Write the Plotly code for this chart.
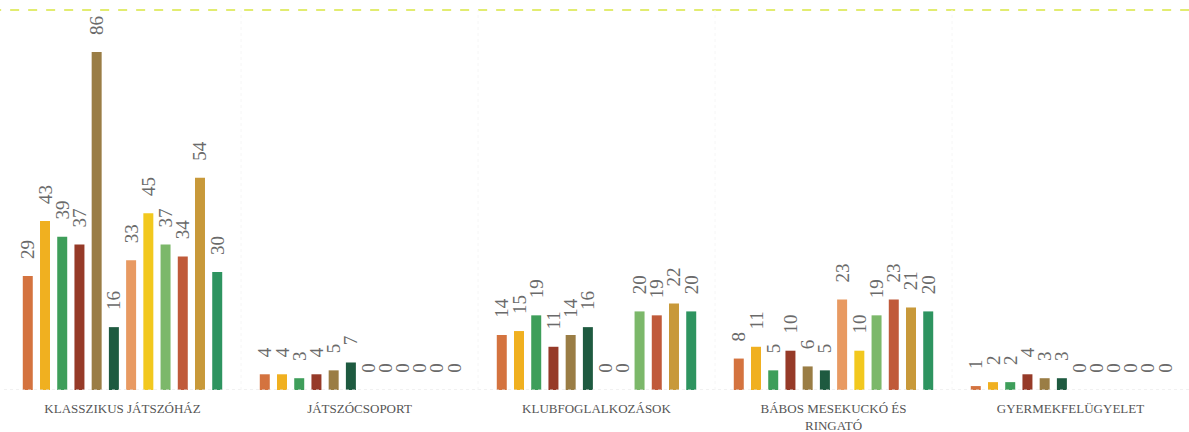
import plotly.graph_objects as go

categories = ["KLASSZIKUS JÁTSZÓHÁZ", "JÁTSZÓCSOPORT", "KLUBFOGLALKOZÁSOK",
              "BÁBOS MESEKUCKÓ ÉS<br>RINGATÓ", "GYERMEKFELÜGYELET"]

s1 = [29, 4, 14, 8, 1]
s2 = [43, 4, 15, 11, 2]
s3 = [39, 3, 19, 5, 2]
s4 = [37, 4, 11, 10, 4]
s5 = [86, 5, 14, 6, 3]
s6 = [16, 7, 16, 5, 3]
s7 = [33, 0, 0, 23, 0]
s8 = [45, 0, 0, 10, 0]
s9 = [37, 0, 20, 19, 0]
s10 = [34, 0, 19, 23, 0]
s11 = [54, 0, 22, 21, 0]
s12 = [30, 0, 20, 20, 0]
series = [s1, s2, s3, s4, s5, s6, s7, s8, s9, s10, s11, s12]

colors = ["#d4733f", "#f0b020", "#3e9e5a", "#963a28", "#9a7d45", "#1e5a40",
          "#e89a62", "#f2c81e", "#7cb86a", "#c05a3a", "#c8993a", "#2e9460"]

label_gap = 3.6  # value units between bar top and its label

fig = go.Figure()
for i, (vals, col) in enumerate(zip(series, colors)):
    fig.add_trace(go.Bar(
        x=categories, y=vals, marker=dict(color=col, line=dict(width=0)),
        offsetgroup=str(i), showlegend=False, hoverinfo="skip"))
    fig.add_trace(go.Bar(
        x=categories, y=[label_gap] * len(vals), base=vals,
        marker=dict(color="rgba(0,0,0,0)", line=dict(width=0)),
        offsetgroup=str(i), showlegend=False,
        text=[str(v) for v in vals], textposition="outside", textangle=-90,
        constraintext="none", cliponaxis=False,
        textfont=dict(family="Liberation Serif", size=19, color="#6a6a6a"),
        hoverinfo="skip"))

shapes = [
    dict(type="line", xref="paper", yref="paper", x0=-0.01, x1=1.0, y0=1.0, y1=1.0,
         line=dict(color="#e2ec70", width=2, dash="dash")),
    dict(type="line", xref="paper", yref="y", x0=0, x1=1, y0=0, y1=0,
         line=dict(color="#e2e2e2", width=1, dash="dot")),
]
for b in [0.5, 1.5, 2.5, 3.5]:
    shapes.append(dict(type="line", xref="x", yref="paper", x0=b, x1=b, y0=0, y1=1,
                       line=dict(color="#f6f6f6", width=1, dash="dot")))

fig.update_layout(
    width=1189, height=432,
    margin=dict(l=4, r=0, t=10, b=42, autoexpand=False),
    paper_bgcolor="white", plot_bgcolor="white",
    barmode="group", bargap=0.128, bargroupgap=0.42,
    shapes=shapes,
    xaxis=dict(range=[-0.5, 4.5], showgrid=False, zeroline=False, showline=False,
               ticks="", ticklabelstandoff=9, automargin=False,
               tickfont=dict(family="Liberation Serif", size=13, color="#555555")),
    yaxis=dict(range=[0, 96.7], showgrid=False, zeroline=False, showline=False,
               showticklabels=False, ticks="", automargin=False),
)

fig.write_html("out.html", config={"displayModeBar": False},
               post_script="document.body.style.margin='0';")
